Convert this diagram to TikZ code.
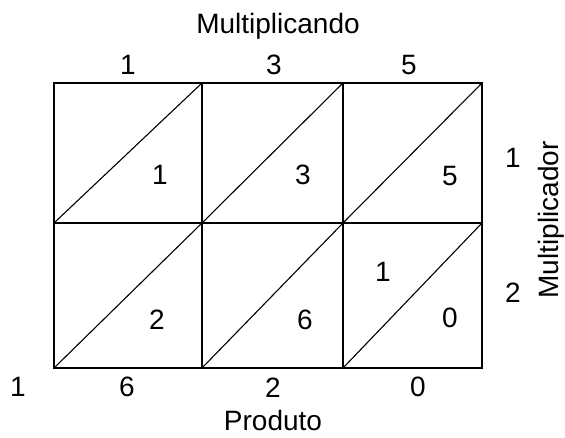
\documentclass[tikz,border=0pt]{standalone}
\usepackage{fontspec}
\setmainfont{Liberation Sans}
\begin{document}
\begin{tikzpicture}[x=1pt,y=-1pt,every node/.style={font=\fontsize{28}{32}\selectfont,inner sep=0pt}]
        \useasboundingbox (0,0) rectangle (565,437);
        \draw[line width=1.6pt](54,83) rectangle (482,368);
        \draw[line width=1.3pt](202,83)--(202,368) (343,83)--(343,368) (54,223)--(482,223);
        \draw[line width=1.1pt](54,223)--(202,83) (202,223)--(343,83) (343,223)--(482,83);
        \draw[line width=1.1pt](54,368)--(202,223) (202,368)--(343,223) (343,368)--(482,223);
        \node[anchor=base] (multiplicando) at (278,33) {Multiplicando};
        \node (a1) at (128,65) {1};
        \node (a2) at (274,65) {3};
        \node (a3) at (409,65) {5};
        \node[rotate=90] (multiplicador) at (551,220) {Multiplicador};
        \node (b1) at (513,158) {1};
        \node (b2) at (513,293) {2};
        \node (c11) at (160,175) {1};
        \node (c12) at (303,175) {3};
        \node (c13) at (450,176) {5};
        \node (c21) at (157,320) {2};
        \node (c22) at (305,320) {6};
        \node (c23) at (450,318) {0};
        \node (c23t) at (383,272) {1};
        \node (p1) at (18,387) {1};
        \node (p2) at (127,387) {6};
        \node (p3) at (273,388) {2};
        \node (p4) at (418,387) {0};
        \node[anchor=base] (produto) at (273,430) {Produto};
    \end{tikzpicture}
\end{document}
